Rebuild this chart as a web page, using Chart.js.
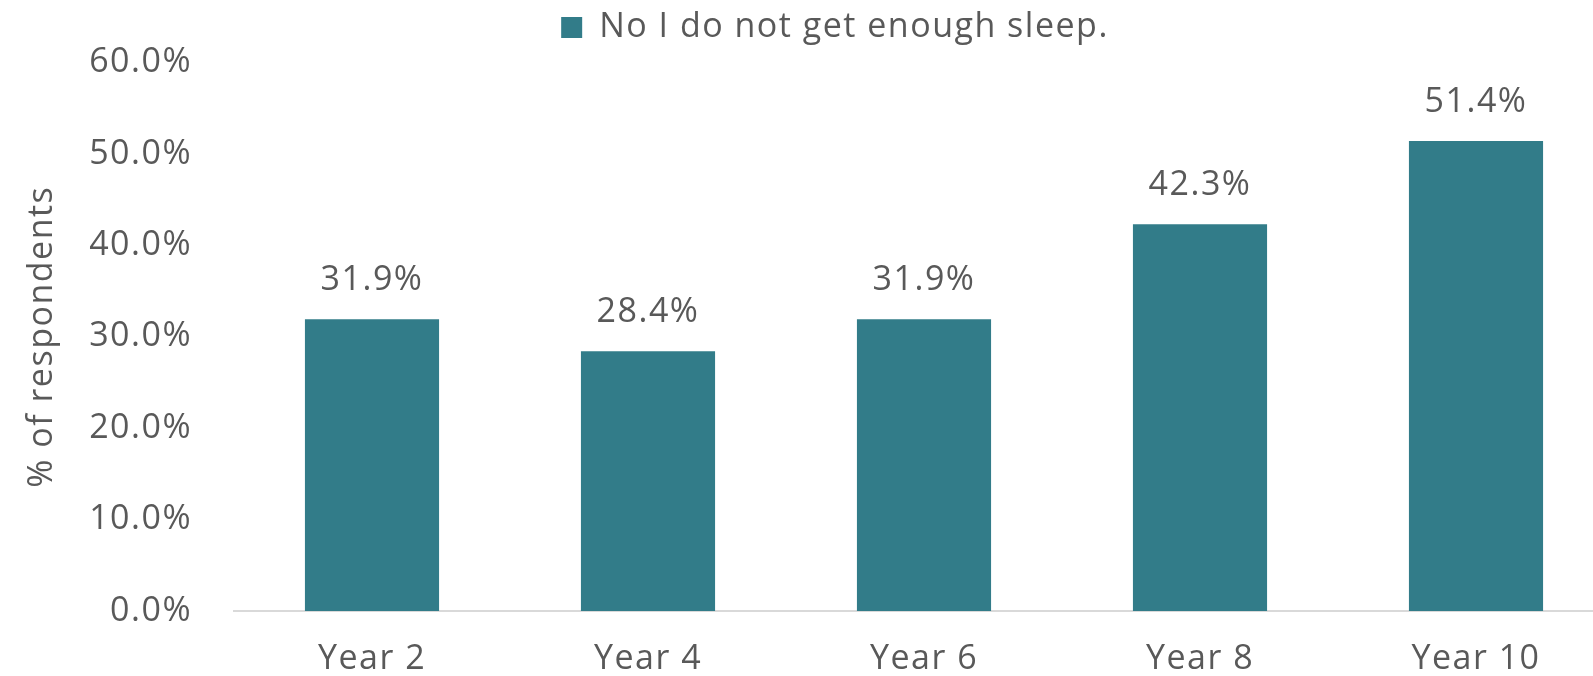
<!DOCTYPE html>
<html>
<head>
<meta charset="utf-8">
<script src="https://cdn.jsdelivr.net/npm/chart.js@4"></script>
<style>
  html, body { margin: 0; padding: 0; background: #fff; overflow: hidden; }
  #wrap { width: 1666px; height: 676px; }
</style>
</head>
<body>
<div id="wrap"><canvas id="sleep-chart" width="1666" height="676"></canvas></div>
<script>
const categories = ["Year 2", "Year 4", "Year 6", "Year 8", "Year 10"];
const notEnoughSleep = [31.9, 28.4, 31.9, 42.3, 51.4];
const yTicks = [0, 10, 20, 30, 40, 50, 60];

const textColor = "#595959";
const fontFamily = "'Open Sans', sans-serif";
const fontSize = 34;
const tracking = "1.5px";

// the source text is set wide, a bit of tracking gets close to it
// (canvas state gets reset on resize, so set it before measuring and before drawing)
const wideText = {
  id: "wideText",
  beforeUpdate(chart) { chart.ctx.letterSpacing = tracking; },
  beforeDraw(chart) { chart.ctx.letterSpacing = tracking; },
  // legend sits a little higher and further right in the original
  afterLayout(chart) {
    const lg = chart.legend;
    lg.top -= 8;
    lg.bottom -= 8;
    lg.left += 28;
    lg.right += 28;
  },
};

// value labels above each bar
const barLabels = {
  id: "barLabels",
  afterDatasetsDraw(chart) {
    const ctx = chart.ctx;
    const meta = chart.getDatasetMeta(0);
    ctx.save();
    ctx.fillStyle = textColor;
    ctx.font = fontSize + "px " + fontFamily;
    ctx.textAlign = "center";
    ctx.textBaseline = "middle";
    meta.data.forEach((bar, i) => {
      ctx.fillText(notEnoughSleep[i].toFixed(1) + "%", bar.x, bar.y - 39);
    });
    ctx.restore();
  },
};

new Chart(document.getElementById("sleep-chart"), {
  type: "bar",
  data: {
    labels: categories,
    datasets: [
      {
        label: "No I do not get enough sleep.",
        data: notEnoughSleep,
        backgroundColor: "#327c89",
        barPercentage: 0.486,
        categoryPercentage: 1,
      },
    ],
  },
  options: {
    responsive: false,
    animation: false,
    layout: { padding: { right: 52, top: 3 } },
    scales: {
      x: {
        grid: { display: false, drawTicks: false },
        border: { color: "#d9d9d9", width: 2 },
        ticks: { color: textColor, font: { size: fontSize, family: fontFamily }, padding: 28 },
        afterFit(scale) { scale.height = 65; },
      },
      y: {
        min: 0,
        max: 60,
        afterBuildTicks(scale) { scale.ticks = yTicks.map((v) => ({ value: v })); },
        grid: { display: false, drawTicks: false },
        border: { display: false },
        ticks: {
          color: textColor,
          font: { size: fontSize, family: fontFamily },
          padding: 42,
          callback: (v) => v.toFixed(1) + "%",
        },
        title: {
          display: true,
          text: "% of respondents",
          color: textColor,
          font: { size: fontSize, family: fontFamily },
          padding: { top: 22, bottom: 0 },
        },
        afterFit(scale) { scale.width = 234; },
      },
    },
    plugins: {
      legend: {
        display: true,
        position: "top",
        labels: {
          color: textColor,
          font: { size: fontSize, family: fontFamily, lineHeight: 1 },
          boxWidth: 21,
          boxHeight: 21,
          padding: 5,
        },
      },
      tooltip: { enabled: false },
    },
  },
  plugins: [wideText, barLabels],
});
</script>
</body>
</html>
